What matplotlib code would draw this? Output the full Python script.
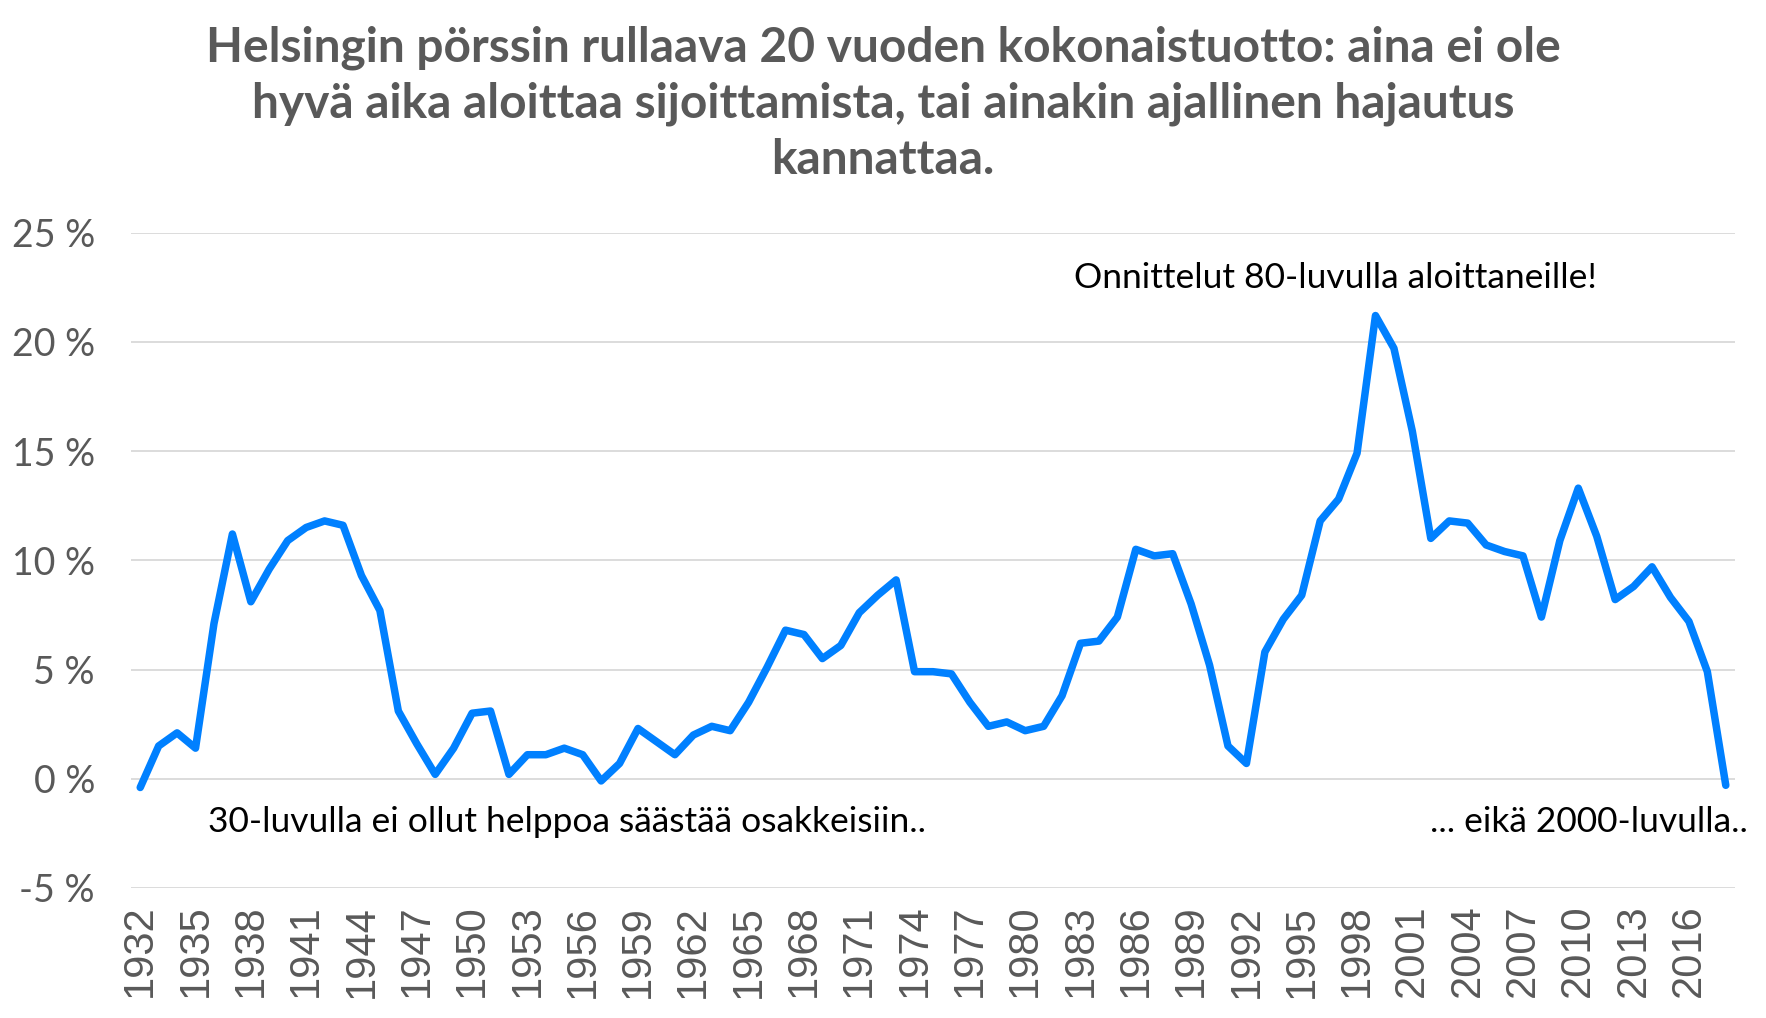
import matplotlib
matplotlib.use('Agg')
import matplotlib.pyplot as plt
import numpy as np

# rolling 20-year total return, %, by start year
years = list(range(1932, 2019))
returns = [
    -0.4, 1.5, 2.1, 1.4, 7.1, 11.2, 8.1, 9.6, 10.9, 11.5,
    11.8, 11.6, 9.3, 7.7, 3.1, 1.6, 0.2, 1.4, 3.0, 3.1,
    0.2, 1.1, 1.1, 1.4, 1.1, -0.1, 0.7, 2.3, 1.7, 1.1,
    2.0, 2.4, 2.2, 3.5, 5.1, 6.8, 6.6, 5.5, 6.1, 7.6,
    8.4, 9.1, 4.9, 4.9, 4.8, 3.5, 2.4, 2.6, 2.2, 2.4,
    3.8, 6.2, 6.3, 7.4, 10.5, 10.2, 10.3, 8.0, 5.2, 1.5,
    0.7, 5.8, 7.3, 8.4, 11.8, 12.8, 14.9, 21.2, 19.7, 15.9,
    11.0, 11.8, 11.7, 10.7, 10.4, 10.2, 7.4, 10.9, 13.3, 11.1,
    8.2, 8.8, 9.7, 8.3, 7.2, 4.9, -0.3,
]
y_ticks = [-5, 0, 5, 10, 15, 20, 25]

title = ("Helsingin pörssin rullaava 20 vuoden kokonaistuotto: aina ei ole\n"
         "hyvä aika aloittaa sijoittamista, tai ainakin ajallinen hajautus\n"
         "kannattaa.")
note_80s = "Onnittelut 80-luvulla aloittaneille!"
note_30s = "30-luvulla ei ollut helppoa säästää osakkeisiin.."
note_00s = "... eikä 2000-luvulla.."

W, H = 1766, 1018
fig = plt.figure(figsize=(W / 100, H / 100), dpi=100)
ax = fig.add_axes([131 / W, 1 - 888 / H, (1735 - 131) / W, (888 - 232.5) / H])

x = np.arange(len(years))
ax.plot(x, returns, color='#0080ff', lw=5.4,
        solid_joinstyle='round', solid_capstyle='round', zorder=3)

ax.set_xlim(-0.5, len(years) - 0.5)
ax.set_ylim(-5, 25)
ax.set_yticks(y_ticks)
ax.set_yticklabels([f'{v} %' for v in y_ticks], family='Lato',
                   fontsize=27, color='#595959')
ax.set_xticks(x[::3])
ax.set_xticklabels([str(y) for y in years[::3]], rotation=90,
                   family='Liberation Sans', fontsize=30, color='#595959')
ax.tick_params(axis='y', length=0, pad=26)
ax.tick_params(axis='x', length=0, pad=12)
ax.grid(axis='y', color='#d9d9d9', lw=1.3)
ax.set_axisbelow(True)
for s in ax.spines.values():
    s.set_visible(False)

fig.text(0.5, 1 - 25 / H, title, ha='center', va='top', family='Lato',
         fontweight='bold', fontsize=34.5, color='#595959', linespacing=1.34)

fig.text(1074 / W, 1 - 278 / H, note_80s, ha='left', va='center',
         family='Lato', fontsize=25.5, color='black')
fig.text(208 / W, 1 - 822 / H, note_30s, ha='left', va='center',
         family='Lato', fontsize=25.5, color='black')
fig.text(1748 / W, 1 - 822 / H, note_00s, ha='right', va='center',
         family='Lato', fontsize=25.5, color='black')

fig.savefig('out.png', dpi=100)
